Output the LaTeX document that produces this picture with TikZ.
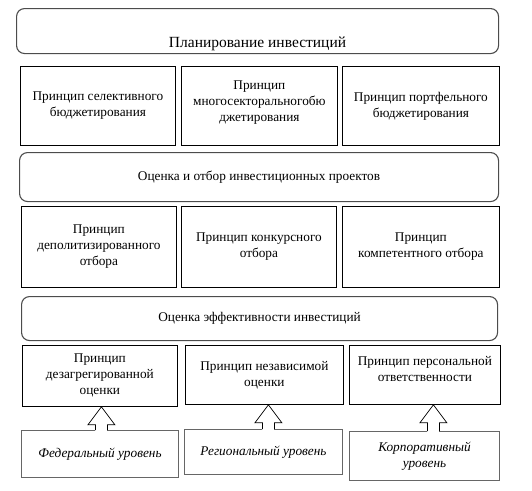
\documentclass[tikz,border=0pt]{standalone}
\usepackage{fontspec}
\setmainfont{Liberation Serif}
\usetikzlibrary{calc}

\newcommand{\boxfont}{\rmfamily\fontsize{13.3}{16}\selectfont}
\newcommand{\titlefont}{\rmfamily\fontsize{15.5}{18}\selectfont}

\tikzset{
  stage/.style={draw=black!70, line width=1.1pt, rounded corners=8pt, anchor=north west,
    align=center, inner sep=0pt, font=\boxfont},
  prin/.style={draw, line width=0.8pt, anchor=north west, align=center, inner sep=1pt,
    font=\boxfont},
  level/.style={draw=black!60, line width=1pt, anchor=north west, align=center, inner sep=1pt,
    font=\boxfont\itshape},
  blockarrow/.style={draw, line width=0.7pt, line join=miter}
}

\begin{document}
\begin{tikzpicture}[x=1pt, y=-1pt]
    \useasboundingbox (0,0) rectangle (532,490);

    % planning stage and its principles
    \node[stage, minimum width=482pt, minimum height=45pt, font=\titlefont,
      text height=33pt, text depth=0pt] (plan) at (16,8) {Планирование инвестиций};
    \node[prin, minimum width=155pt, minimum height=79pt] (sel) at (20,66)
      {Принцип селективного\\бюджетирования};
    \node[prin, minimum width=156pt, minimum height=79pt, text depth=10pt] (multi) at (181,66)
      {Принцип\\многосекторальногобю\\джетирования};
    \node[prin, minimum width=157pt, minimum height=79pt] (port) at (342,66)
      {Принцип портфельного\\бюджетирования};

    % selection stage and its principles
    \node[stage, minimum width=479pt, minimum height=49pt] (sele) at (19,152)
      {Оценка и отбор инвестиционных проектов};
    \node[prin, minimum width=155pt, minimum height=81pt] (depol) at (21,206)
      {Принцип\\деполитизированного\\отбора};
    \node[prin, minimum width=155pt, minimum height=81pt] (konk) at (181,206)
      {Принцип конкурсного\\отбора};
    \node[prin, minimum width=157pt, minimum height=81pt] (komp) at (342,206)
      {Принцип\\компетентного отбора};

    % efficiency stage and its principles
    \node[stage, minimum width=476pt, minimum height=44pt] (eff) at (21,296)
      {Оценка эффективности инвестиций};
    \node[prin, minimum width=155pt, minimum height=61pt] (dez) at (22,345)
      {Принцип\\дезагрегированной\\оценки};
    \node[prin, minimum width=158pt, minimum height=59pt] (nez) at (185,345)
      {Принцип независимой\\оценки};
    \node[prin, minimum width=151pt, minimum height=59pt, text depth=12pt] (pers) at (349,345)
      {Принцип персональной\\ответственности};

    % levels
    \node[level, minimum width=157pt, minimum height=47pt] (fed) at (21,430)
      {Федеральный уровень};
    \node[level, minimum width=158pt, minimum height=45pt] (reg) at (184,429)
      {Региональный уровень};
    \node[level, minimum width=150pt, minimum height=49pt] (corp) at (349,431)
      {Корпоративный\\уровень};

    % hollow arrows from the levels up to the principles
    \foreach \lo/\hi/\dx in {fed/dez/1.5, reg/nez/4, corp/pers/8.5} {
      \coordinate (tip) at ($(\hi.south)+(\dx,0)$);
      \coordinate (foot) at (tip |- \lo.north);
      \fill[white] ($(foot)+(-6,2)$) rectangle ($(tip)+(6,18)$);
      \draw[blockarrow] ($(foot)+(-6,0)$) -- ($(tip)+(-6,18)$) -- ($(tip)+(-13.5,18)$)
        -- (tip) -- ($(tip)+(13.5,18)$) -- ($(tip)+(6,18)$) -- ($(foot)+(6,0)$);
    }
\end{tikzpicture}
\end{document}
